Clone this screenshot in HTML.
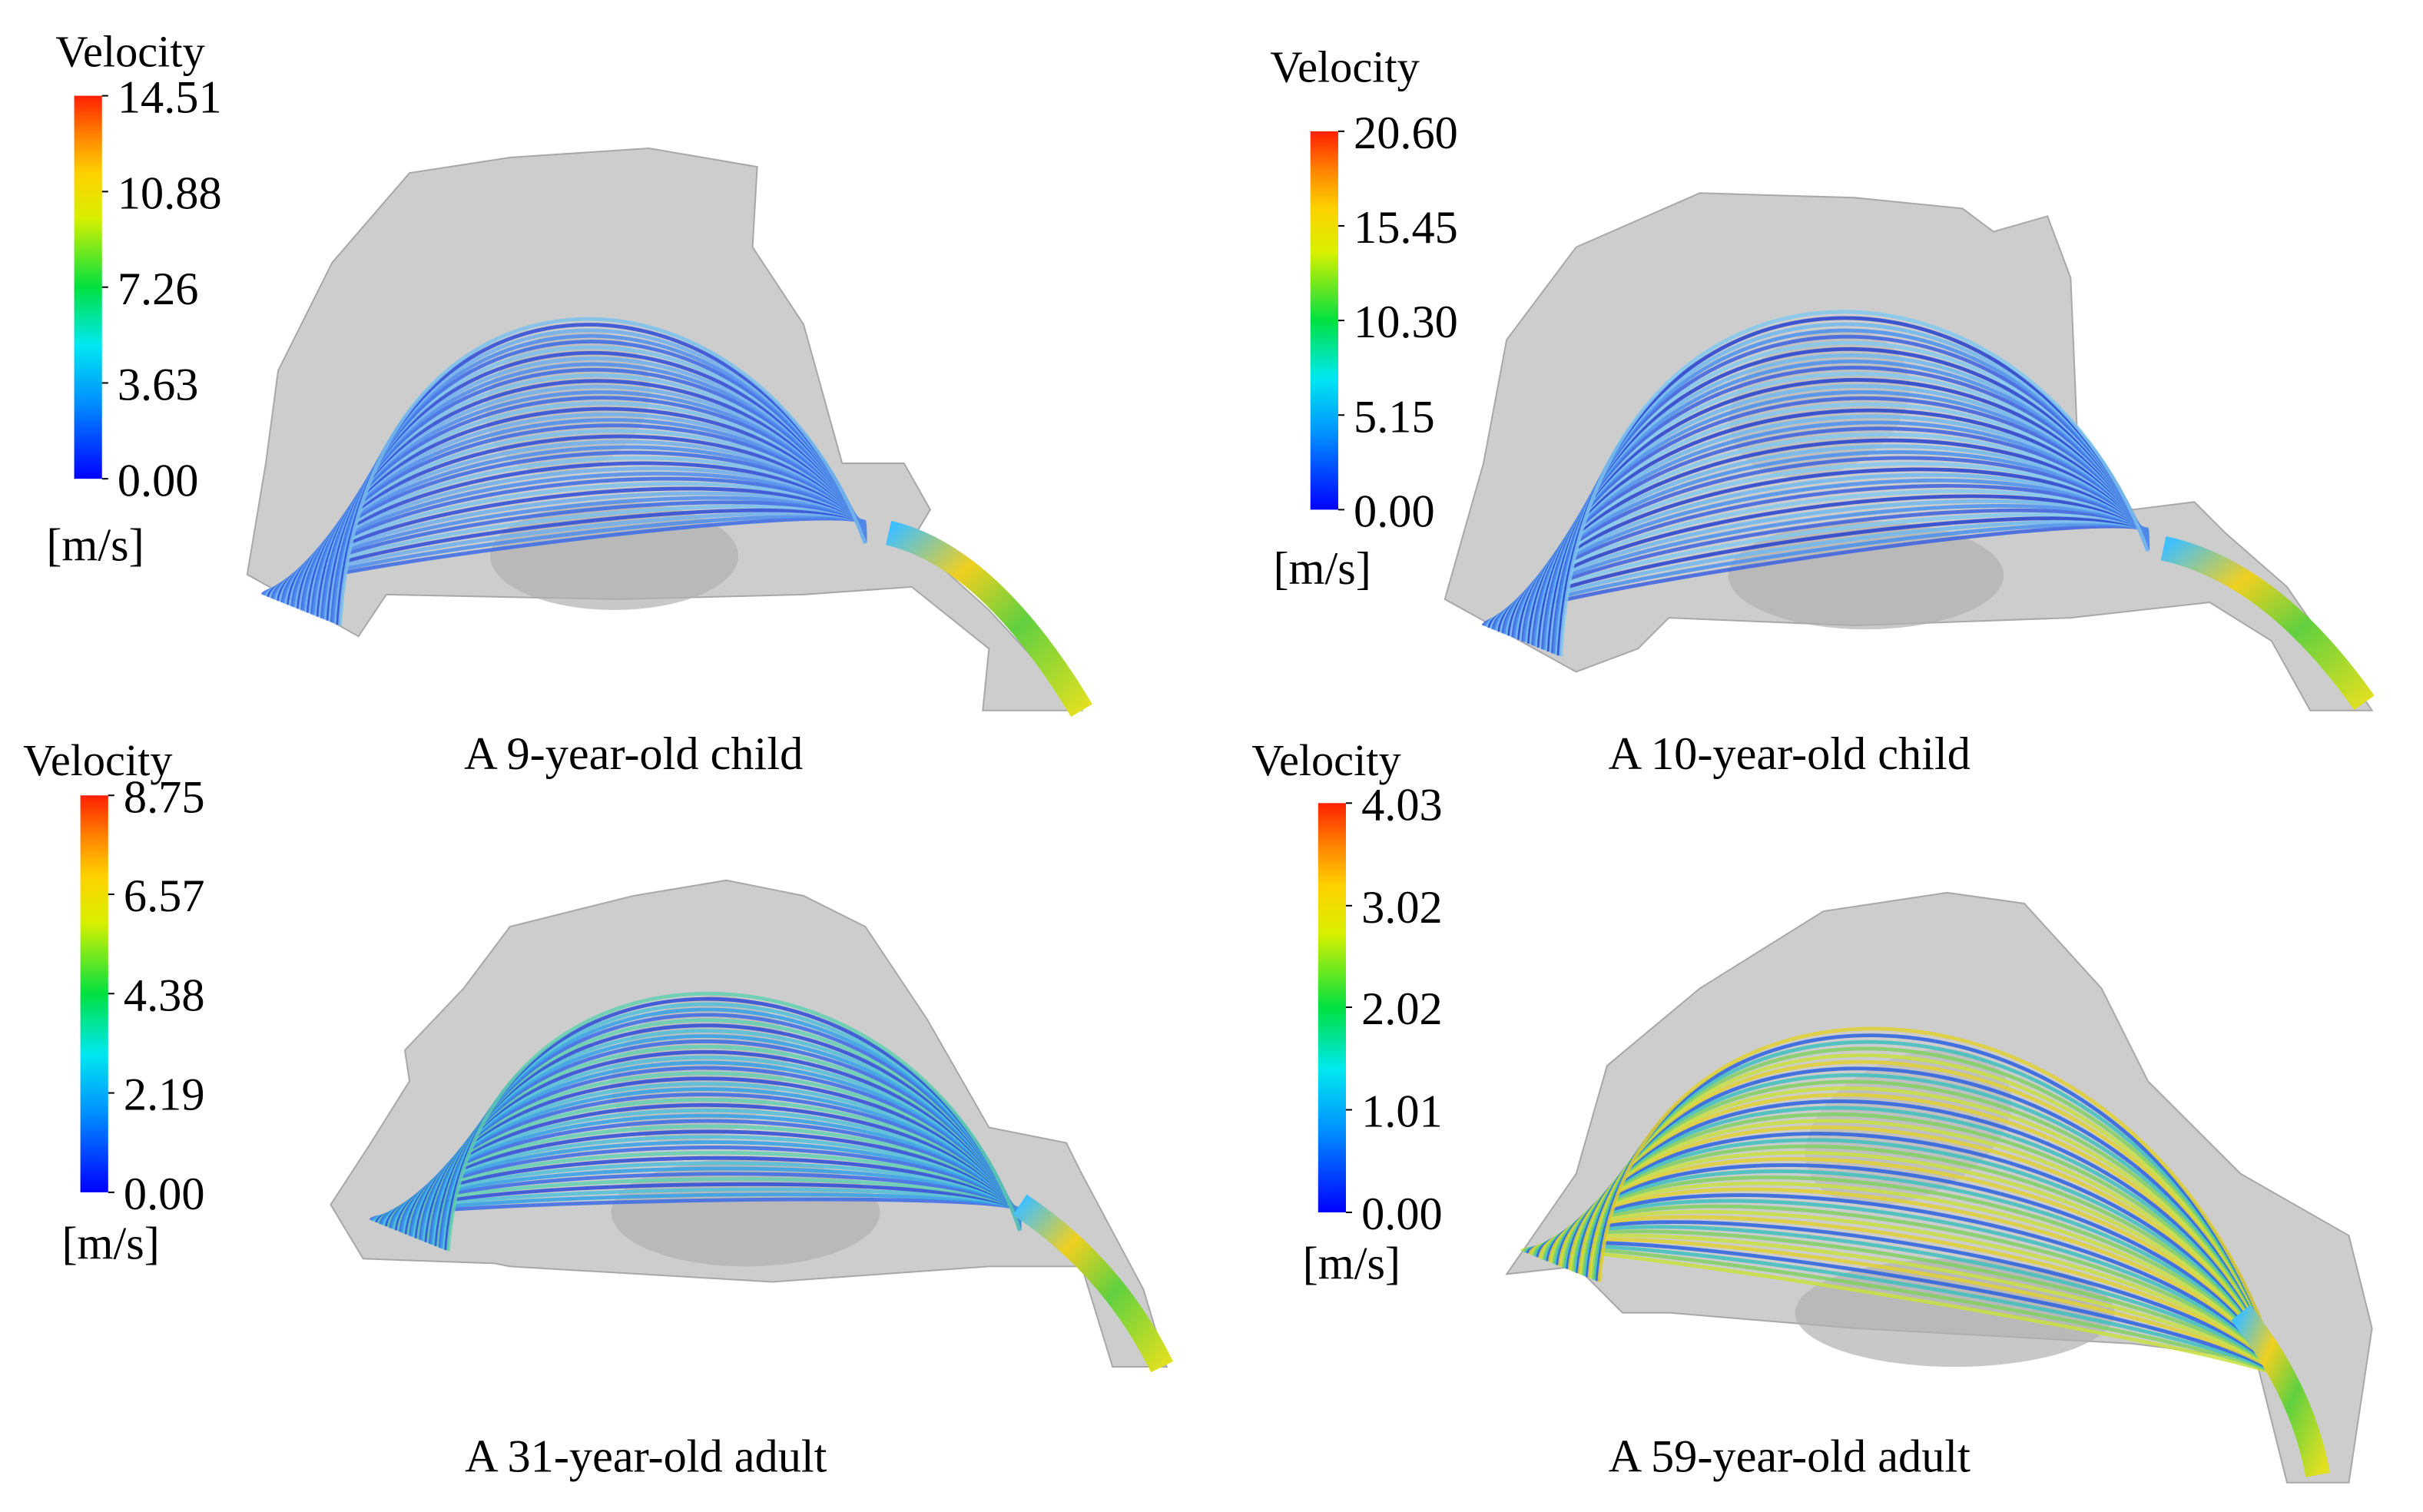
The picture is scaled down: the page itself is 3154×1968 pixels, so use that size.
<!DOCTYPE html>
<html><head><meta charset="utf-8"><style>
html,body{margin:0;padding:0;background:#fff;}
svg{display:block;}
text{font-family:"Liberation Serif","DejaVu Serif",serif;fill:#000;}
</style></head><body>
<svg id="fig" width="3154" height="1968" viewBox="0 0 1568 979" preserveAspectRatio="none" xmlns="http://www.w3.org/2000/svg">
<defs>
<linearGradient id="jet" x1="0" y1="1" x2="0" y2="0">
<stop offset="0" stop-color="#0000ff"/><stop offset="0.2" stop-color="#0090ff"/><stop offset="0.35" stop-color="#00e8f0"/><stop offset="0.5" stop-color="#00e040"/><stop offset="0.68" stop-color="#d8f000"/><stop offset="0.8" stop-color="#ffd000"/><stop offset="0.9" stop-color="#ff8000"/><stop offset="1" stop-color="#ff2000"/>
</linearGradient>
<linearGradient id="tube" x1="0" y1="0" x2="1" y2="1">
<stop offset="0" stop-color="#40c0ff"/><stop offset="0.3" stop-color="#f0d020"/><stop offset="0.6" stop-color="#60d040"/><stop offset="1" stop-color="#e0e020"/>
</linearGradient>
</defs>
<g id="panels"></g>
</svg>
<script>
// colorbar tick labels per panel
const ticks1 = ["14.51","10.88","7.26","3.63","0.00"];
const ticks2 = ["20.60","15.45","10.30","5.15","0.00"];
const ticks3 = ["8.75","6.57","4.38","2.19","0.00"];
const ticks4 = ["4.03","3.02","2.02","1.01","0.00"];
const tickVals1 = [14.51,10.88,7.26,3.63,0];
const tickVals2 = [20.60,15.45,10.30,5.15,0];
const tickVals3 = [8.75,6.57,4.38,2.19,0];
const tickVals4 = [4.03,3.02,2.02,1.01,0];
const titles = ["A 9-year-old child","A 10-year-old child","A 31-year-old adult","A 59-year-old adult"];

const NS="http://www.w3.org/2000/svg";
const root=document.getElementById('panels');
function mk(tag,attrs,parent){const e=document.createElementNS(NS,tag);for(const k in attrs)e.setAttribute(k,attrs[k]);(parent||root).appendChild(e);return e;}

const panels=[
 {ticks:ticks1,vals:tickVals1,bar:[48,62,18,248],vel:[36,43],unit:[30,363],title:[410,498],
  shape:"M160,372 L172,300 L180,240 L215,170 L265,112 L330,102 L420,96 L490,108 L487,160 L520,210 L545,300 L585,300 L602,330 L590,350 L640,395 L700,460 L636,460 L640,420 L590,380 L520,385 L400,388 L250,385 L232,412 Z",
  start:[195,395],end:[560,345],spread:[230,120],top:150,tube:"M575,345 Q640,360 700,460",cols:["#3a6ae8","#4d8df0","#6fb0f0","#2a4ad8","#7ac0ec"]},
 {ticks:ticks2,vals:tickVals2,bar:[848,85,18,245],vel:[822,53],unit:[824,378],title:[1158,498],
  shape:"M935,388 L960,300 L975,220 L1020,160 L1100,125 L1200,128 L1270,135 L1290,150 L1325,140 L1340,180 L1345,300 L1380,330 L1420,325 L1440,345 L1480,380 L1535,460 L1495,460 L1470,415 L1430,390 L1340,400 L1200,405 L1080,400 L1060,420 L1020,435 Z",
  start:[985,415],end:[1390,350],spread:[260,140],top:140,tube:"M1400,355 Q1470,370 1530,455",cols:["#3a60e0","#4a90f0","#70b8f0","#2540d0","#80c8f0"]},
 {ticks:ticks3,vals:tickVals3,bar:[52,515,18,257],vel:[15,502],unit:[40,815],title:[418,953],
  shape:"M214,780 L240,740 L265,700 L262,680 L300,640 L330,600 L410,580 L470,570 L520,580 L560,600 L600,660 L640,730 L690,740 L700,760 L740,835 L755,885 L720,885 L700,820 L640,820 L500,830 L330,820 L320,818 L235,815 Z",
  start:[265,800],end:[660,790],spread:[200,120],top:590,tube:"M660,780 Q720,820 752,885",cols:["#3a6ae8","#30a0e8","#50c0d8","#2a4ad8","#60d0b0"]},
 {ticks:ticks4,vals:tickVals4,bar:[853,520,18,265],vel:[810,502],unit:[843,828],title:[1158,953],
  shape:"M975,825 L1020,760 L1040,690 L1100,640 L1180,590 L1260,578 L1310,585 L1360,640 L1390,700 L1450,760 L1520,800 L1535,860 L1520,960 L1480,960 L1460,880 L1380,870 L1200,860 L1080,850 L1050,850 L1020,820 Z",
  start:[1010,820],end:[1480,900],spread:[260,160],top:600,tube:"M1450,850 Q1490,900 1500,955",cols:["#c8e040","#80d060","#40c0c0","#2a60e0","#e0d030"]}
];

panels.forEach((p,i)=>{
  const g=mk('g',{});
  
  
  const s=mk('path',{d:p.shape,fill:'#c4c4c4','fill-opacity':'0.85',stroke:'#a8a8a8','stroke-width':'1'},g);
  
  
  const b=p.start, e=p.end;
  const mx=(b[0]+e[0])/2, my=(b[1]+e[1])/2;
  mk('ellipse',{cx:mx+20,cy:my-10,rx:(e[0]-b[0])*0.22,ry:35,fill:'#b0b0b0','fill-opacity':'0.7'},g);
  mk('ellipse',{cx:mx-10,cy:(p.top+my)/2,rx:(e[0]-b[0])*0.15,ry:45,fill:'#b8b8b8','fill-opacity':'0.6',transform:`rotate(-25 ${mx-10} ${(p.top+my)/2})`},g);
  const sl=mk('g',{fill:'none','stroke-width':'2.4','stroke-opacity':'0.85'},g);
  
  
  const n=40;
  for(let k=0;k<n;k++){
    const t=k/(n-1);
    const sx=b[0]+(t-0.5)*50, sy=b[1]+(t-0.5)*20;
    const c1x=b[0]-20+t*60, c1y=b[1]-(b[1]-p.top)*t*1.1;
    const c2x=e[0]-p.spread[0]*0.15-t*40, c2y=p.top+(1-t)*(my-p.top)*0.2+t*10;
    const c1yy = b[1]-(b[1]-p.top)*(0.1+0.9*t);
    const c2yy = p.top + (e[1]-p.top)*(1-t)*0.9;
    const path=mk('path',{d:`M${sx},${sy} C${c1x},${c1yy} ${c2x},${c2yy} ${e[0]},${e[1]+(t-0.5)*14}`,stroke:p.cols[k%p.cols.length]},sl);
    
    
  }
  const tb=mk('path',{d:p.tube,fill:'none',stroke:'url(#tube)','stroke-width':'16','stroke-linecap':'butt'},g);
  
  
  const [x,y,w,h]=p.bar;
  const cb=mk('rect',{x:x,y:y,width:w,height:h,fill:'url(#jet)'},g);
  
  
  const vmax=p.vals[0];
  p.vals.forEach((v,j)=>{
    const ty=y+h-(v/vmax)*h;
    mk('line',{x1:x+w,x2:x+w+4,y1:ty,y2:ty,stroke:'#000','stroke-width':'1'},g);
    const tx=mk('text',{x:x+w+10,y:ty+11,'font-size':'30','font-family':'Liberation Serif, serif'},g);
    tx.textContent=p.ticks[j];
    
    
  });
  const vt=mk('text',{x:p.vel[0],y:p.vel[1],'font-size':'29','font-family':'Liberation Serif, serif'},g);
  vt.textContent='Velocity';
  
  
  const ut=mk('text',{x:p.unit[0],y:p.unit[1],'font-size':'30','font-family':'Liberation Serif, serif'},g);
  ut.textContent='[m/s]';
  
  
  const tt=mk('text',{x:p.title[0],y:p.title[1],'font-size':'30','text-anchor':'middle','font-family':'Liberation Serif, serif'},g);
  tt.textContent=titles[i];
  
  
});
</script>
</body></html>
